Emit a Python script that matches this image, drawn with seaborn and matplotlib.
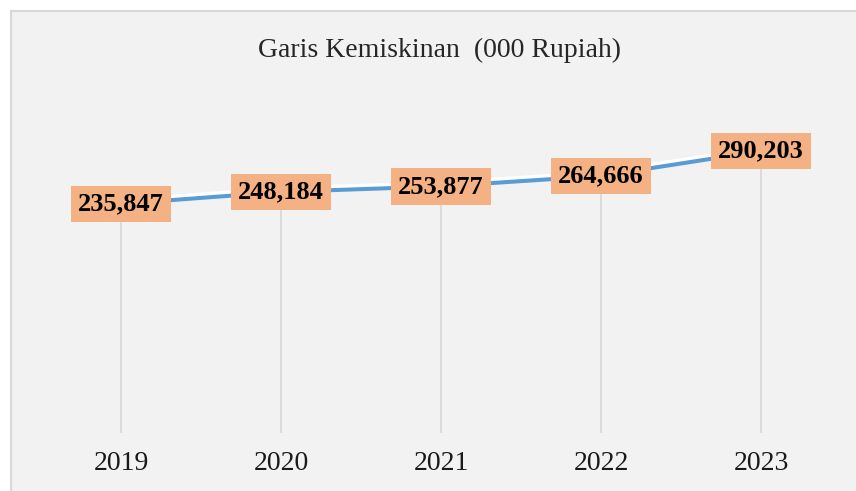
import matplotlib
matplotlib.use("Agg")
import matplotlib.pyplot as plt
import matplotlib.patheffects as pe
from matplotlib.patches import Rectangle
import pandas as pd
import seaborn as sns

years = ["2019", "2020", "2021", "2022", "2023"]
garis = [235847, 248184, 253877, 264666, 290203]
title = "Garis Kemiskinan  (000 Rupiah)"

df = pd.DataFrame({"tahun": years, "nilai": garis})

sns.set_style("white")
plt.rcParams["font.family"] = ["Liberation Serif", "DejaVu Serif"]

fig = plt.figure(figsize=(8.56, 4.91), dpi=100)
fig.patch.set_facecolor("white")
# grey chart panel with a thin border
fig.patches.append(Rectangle((11 / 856, -0.05), 1.2, 1.05 - 11 / 491,
                             transform=fig.transFigure, facecolor="#f2f2f2",
                             edgecolor="#d9d9d9", linewidth=1.5, zorder=-10))

ax = fig.add_axes([41 / 856, 1 - 433 / 491, 800 / 856, 340 / 491])
ax.set_facecolor("none")

# drop lines
ax.vlines(range(len(years)), 0, garis, color="#d9d9d9", linewidth=1.3, zorder=1)

sns.lineplot(data=df, x="tahun", y="nilai", ax=ax, color="#5b9bd5",
             linewidth=2.9, zorder=3,
             path_effects=[pe.SimpleLineShadow(offset=(0, 2.4), shadow_color="white",
                                               alpha=1.0, rho=1.0),
                           pe.Normal()])

for i, v in enumerate(garis):
    ax.text(i, v, f"{v:,}", ha="center", va="center", fontsize=19,
            fontweight="bold", color="black", zorder=5,
            bbox=dict(boxstyle="square,pad=0.26", facecolor="#f4b183",
                      edgecolor="none"))

ax.set_xlim(-0.5, 4.5)
ax.set_ylim(0, 350000)
ax.set_yticks([])
ax.set_xlabel("")
ax.set_ylabel("")
ax.tick_params(axis="x", length=0, pad=13, labelsize=20, labelcolor="#1a1a1a")
for s in ax.spines.values():
    s.set_visible(False)

fig.text(439.5 / 856, 1 - 57 / 491, title, ha="center", va="baseline",
         fontsize=20, color="#262626")

fig.savefig("out.png", dpi=100)
